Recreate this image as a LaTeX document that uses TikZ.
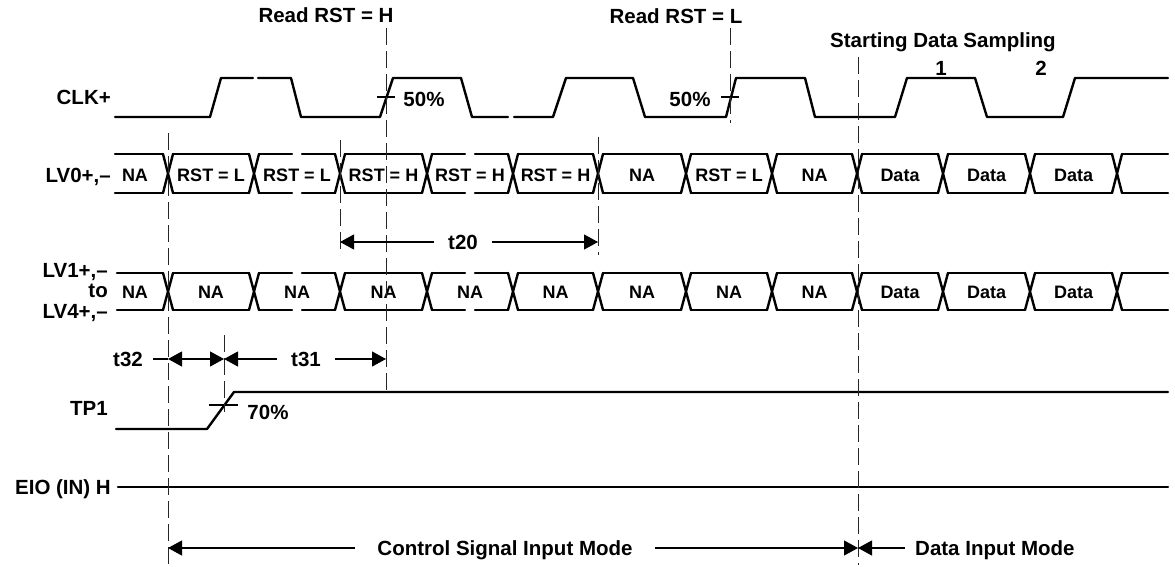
\documentclass[tikz,border=0pt]{standalone}
\usepackage{fontspec}
\setmainfont{Liberation Sans}
\usetikzlibrary{arrows.meta}
\newcommand{\lblsize}{\fontsize{20.5}{24}\selectfont\bfseries}
\newcommand{\cellsize}{\fontsize{18}{22}\selectfont\bfseries}
\newcommand{\buscross}{168,254,340,427,513,598,686,772,857,943,1030,1117}

\begin{document}
\begin{tikzpicture}[x=1pt, y=-1pt,
		>={Triangle[length=14pt, width=15pt]},
		wave/.style={line width=2.4pt, line cap=round, line join=round},
		gapped/.style={wave, dash pattern=on 33pt off 10pt},
		guide/.style={line width=1pt, draw=black!85, dash pattern=on 17pt off 6pt},
		dim/.style={line width=1.1pt},
		tick/.style={line width=1.8pt},
		lbl/.style={font=\lblsize, inner sep=0pt, text depth=0pt},
		gaplbl/.style={lbl, inner xsep=14pt},
		celltxt/.style={font=\cellsize, inner sep=0pt, text depth=0pt}
		]
		\useasboundingbox (0,0) rectangle (1175,567);

		% Signal names
		\node[lbl, anchor=east] (clk) at (111,97.5) {CLK+};
		\node[lbl, anchor=east] (lvzero) at (111,175.5) {LV0+,--};
		\node[lbl, anchor=east] (lvone) at (108,270) {LV1+,--};
		\node[lbl, anchor=east] (lvto) at (108,290.5) {to};
		\node[lbl, anchor=east] (lvfour) at (108,311.5) {LV4+,--};
		\node[lbl, anchor=east] (tpone) at (108,408.5) {TP1};
		\node[lbl, anchor=east] (eio) at (111,487) {EIO (IN) H};

		% Event labels
		\node[lbl] (readh) at (326,15.5) {Read RST = H};
		\node[lbl] (readl) at (676,16.5) {Read RST = L};
		\node[lbl] (start) at (943,40) {Starting Data Sampling};
		\node[lbl] (sone) at (941,68) {1};
		\node[lbl] (stwo) at (1041,68) {2};

		% Clock
		\draw[wave] (115,117) -- (210,117) -- (221,78) -- (253,78);
		\draw[wave] (258,78) -- (291,78) -- (301,117) -- (380,117) -- (393,78) -- (461,78) -- (472,117) -- (508,117);
		\draw[wave] (514,117) -- (553,117) -- (566,78) -- (633,78) -- (645,117) -- (726,117) -- (736,78)
			-- (805,78) -- (815,117) -- (895,117) -- (907,78) -- (975,78) -- (987,117) -- (1063,117) -- (1075,78) -- (1168,78);
		\draw[tick] (377,97) -- (395,97);
		\node[lbl] (pfa) at (424,99) {50\%};
		\draw[tick] (721,97) -- (739,97);
		\node[lbl] (pfb) at (690,99) {50\%};

		% LV0 bus
		\foreach \t in \buscross
			\draw[wave] (\t-5,154) -- (\t+5,193) (\t-5,193) -- (\t+5,154);
		\foreach \a/\b/\s in {115/163/wave, 173/249/wave, 259/335/gapped, 345/422/wave, 432/508/gapped,
				518/593/wave, 603/681/wave, 691/767/wave, 777/852/wave, 862/938/wave, 948/1025/wave,
				1035/1112/wave, 1122/1168/wave}
			\draw[\s] (\a,154) -- (\b,154) (\a,193) -- (\b,193);
		\foreach \x/\txt [count=\i] in {135/NA, 211/RST = L, 297/RST = L, 383.5/RST = H, 470/RST = H,
				555.5/RST = H, 642/NA, 729/RST = L, 814.5/NA, 900/Data, 986.5/Data, 1073.5/Data}
			\node[celltxt] (lvz\i) at (\x,175) {\txt};

		% LV1 to LV4 bus
		\foreach \t in \buscross
			\draw[wave] (\t-5,273) -- (\t+5,310) (\t-5,310) -- (\t+5,273);
		\foreach \a/\b/\s in {117/163/wave, 173/249/wave, 259/335/gapped, 345/422/wave, 432/508/gapped,
				518/593/wave, 603/681/wave, 691/767/wave, 777/852/wave, 862/938/wave, 948/1025/wave,
				1035/1112/wave, 1122/1168/wave}
			\draw[\s] (\a,273) -- (\b,273) (\a,310) -- (\b,310);
		\foreach \x/\txt [count=\i] in {135/NA, 211/NA, 297/NA, 383.5/NA, 470/NA, 555.5/NA, 642/NA,
				729/NA, 814.5/NA, 900/Data, 986.5/Data, 1073.5/Data}
			\node[celltxt] (lvo\i) at (\x,292) {\txt};

		% TP1 and EIO
		\draw[wave] (116,429) -- (207,429) -- (234,392) -- (1168,392);
		\draw[tick] (209,405) -- (238,405);
		\node[lbl] (pseventy) at (268,412) {70\%};
		\draw[wave] (118,487) -- (1168,487);

		% Guide lines
		\coordinate (gAt) at (168,133); \coordinate (gAb) at (168,565);
		\coordinate (gBt) at (340,140); \coordinate (gBb) at (340,255);
		\coordinate (gCt) at (386,28);  \coordinate (gCb) at (386,392);
		\coordinate (gDt) at (598,137); \coordinate (gDb) at (598,255);
		\coordinate (gEt) at (730,28);  \coordinate (gEb) at (730,123);
		\coordinate (gFt) at (858,57);  \coordinate (gFb) at (858,565);
		\coordinate (gGt) at (224,335); \coordinate (gGb) at (224,412);
		\foreach \g in {A,B,C,D,E,F,G}
			\draw[guide] (g\g t) -- (g\g b);

		% Timing
		\node[gaplbl] (ttwenty) at (463,242) {t20};
		\draw[dim,<-] (gBt |- ttwenty) -- (ttwenty.west);
		\draw[dim,->] (ttwenty.east) -- (gDt |- ttwenty);
		\node[lbl] (tthirtytwo) at (128,359) {t32};
		\draw[dim] ([xshift=10pt]tthirtytwo.east) -- (gAt |- tthirtytwo);
		\draw[dim,<->] (gAt |- tthirtytwo) -- (gGt |- tthirtytwo);
		\node[gaplbl] (tthirtyone) at (306,359) {t31};
		\draw[dim,<-] (gGt |- tthirtyone) -- (tthirtyone.west);
		\draw[dim,->] (tthirtyone.east) -- (gCt |- tthirtyone);

		% Modes
		\node[lbl, inner xsep=22pt] (ctrlmode) at (505,548) {Control Signal Input Mode};
		\draw[dim,<-] (gAb |- ctrlmode) -- (ctrlmode.west);
		\draw[dim,->] (ctrlmode.east) -- (gFb |- ctrlmode);
		\node[lbl, anchor=west] (datamode) at (915,548) {Data Input Mode};
		\draw[dim,<-] (gFb |- datamode) -- ([xshift=-10pt]datamode.west);
	\end{tikzpicture}
\end{document}
